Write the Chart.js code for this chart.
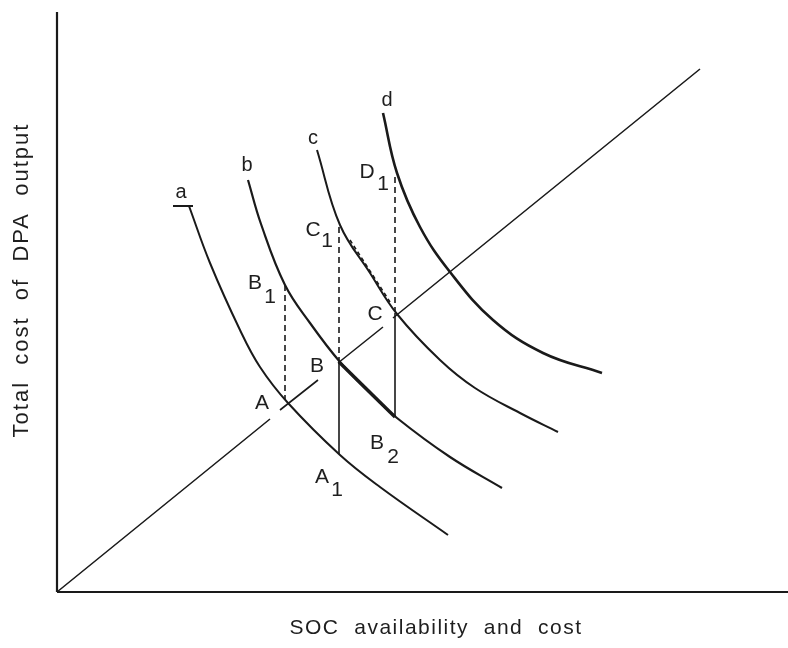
<!DOCTYPE html>
<html>
<head>
<meta charset="utf-8">
<script src="https://cdn.jsdelivr.net/npm/chart.js@4.4.1/dist/chart.umd.min.js"></script>
<style>
  html, body { margin: 0; padding: 0; background: #fff; }
  #wrap { width: 788px; height: 648px; }
</style>
</head>
<body>
<div id="wrap"><canvas id="chart" width="788" height="648"></canvas></div>
<script>
// axis units: one unit = ten pixels of the original drawing
const xMax = 73.1;
const yMax = 58;

// cost curves a, b, c, d
const curveAx = [13.2, 15.3, 18.3, 20.3, 23.1, 28.3, 32.3, 39.1];
const curveAy = [38.6, 32.9, 26.2, 22.5, 18.9, 13.7, 10.5, 5.7];

const curveBx = [19.1, 20.4, 22.8, 25.3, 28.3, 31.3, 34.0, 39.3, 44.5];
const curveBy = [41.2, 36.8, 30.7, 26.9, 23.0, 19.9, 17.4, 13.5, 10.4];

const curveCx = [26.0, 28.3, 31.3, 34.0, 38.3, 41.8, 46.3, 50.1];
const curveCy = [44.2, 36.7, 31.9, 27.8, 23.2, 20.4, 17.9, 16.0];

const curveDx = [32.6, 34.0, 36.3, 39.3, 43.6, 48.6, 54.5];
const curveDy = [47.9, 41.9, 36.5, 32.0, 27.2, 23.9, 21.9];

// ray from origin through A, B, C (broken beside the labels)
const rayX = [0, 21.3, 21.8, 22.3, 26.1, 27.1, 28.1, 32.6, 33.1, 33.6, 64.3];
const rayY = [0, 17.3, null, 18.2, 21.2, null, 22.9, 26.5, null, 27.4, 52.3];

// little bar on top of curve a
const tickAx = [11.6, 13.6];
const tickAy = [38.6, 38.6];

// dashed drops
const dropB1x = [22.8, 22.8];
const dropB1y = [30.7, 19.2];
const dropC1x = [28.2, 28.2];
const dropC1y = [36.5, 23.0];
const dropD1x = [33.8, 33.8];
const dropD1y = [41.5, 28.0];
const chordC1x = [29.3, 33.3];
const chordC1y = [35.2, 29.0];

// solid drops and the B-B2 chord
const dropBx = [28.2, 28.2];
const dropBy = [23.0, 13.8];
const dropCx = [33.8, 33.8];
const dropCy = [27.9, 17.5];
const chordBx = [28.2, 33.8];
const chordBy = [23.0, 17.5];

// axes
const axisYx = [0, 0];
const axisYy = [0, yMax];
const axisXx = [0, xMax];
const axisXy = [0, 0];

const ink = "#1a1a1a";

// text marks: [text, x, y, size]
const marks = [
    ["a", 12.4, 40.0, 20],
    ["b", 19.0, 42.7, 20],
    ["c", 25.6, 45.4, 20],
    ["d", 33.0, 49.2, 20],
    ["D", 31.0, 42.0, 21], ["1", 32.6, 40.8, 21],
    ["C", 25.6, 36.2, 21], ["1", 27.0, 35.1, 21],
    ["B", 19.8, 30.9, 21], ["1", 21.3, 29.5, 21],
    ["C", 31.8, 27.8, 21],
    ["B", 26.0, 22.6, 21],
    ["A", 20.5, 18.9, 21],
    ["B", 32.0, 14.9, 21], ["2", 33.6, 13.5, 21],
    ["A", 26.5, 11.5, 21], ["1", 28.0, 10.2, 21]
];

const xTitle = "SOC  availability  and  cost";
const yTitle = "Total  cost  of  DPA  output";

function pts(xs, ys) {
    return xs.map((x, i) => ({ x: x, y: ys[i] }));
}

function line(xs, ys, width, extra) {
    return Object.assign({
        data: pts(xs, ys),
        borderColor: ink,
        borderWidth: width,
        pointRadius: 0,
        fill: false,
        clip: false,
        spanGaps: false
    }, extra || {});
}

const curve = { tension: 0.4 };
const dashed = { borderDash: [6, 4] };

const textPlugin = {
    id: "textMarks",
    afterDatasetsDraw(chart) {
        const ctx = chart.ctx;
        const xs = chart.scales.x;
        const ys = chart.scales.y;
        ctx.save();
        ctx.fillStyle = "#1e1e1e";
        ctx.textAlign = "center";
        ctx.textBaseline = "middle";
        marks.forEach(m => {
            ctx.font = m[3] + "px 'Liberation Sans', Arial, sans-serif";
            ctx.fillText(m[0], xs.getPixelForValue(m[1]), ys.getPixelForValue(m[2]));
        });

        ctx.font = "21px 'Liberation Sans', Arial, sans-serif";
        ctx.letterSpacing = "1.5px";
        ctx.fillText(xTitle, 436, 628);

        ctx.translate(22, 280);
        ctx.rotate(-Math.PI / 2);
        ctx.font = "22px 'Liberation Sans', Arial, sans-serif";
        ctx.letterSpacing = "2px";
        ctx.fillText(yTitle, 0, 0);
        ctx.restore();
    }
};

new Chart(document.getElementById("chart"), {
    type: "line",
    data: {
        datasets: [
            line(axisYx, axisYy, 2.2),
            line(axisXx, axisXy, 2.2),
            line(rayX, rayY, 1.6),
            line(curveAx, curveAy, 2, curve),
            line(curveBx, curveBy, 2.2, curve),
            line(curveCx, curveCy, 2, curve),
            line(curveDx, curveDy, 2.6, curve),
            line(tickAx, tickAy, 2),
            line(dropB1x, dropB1y, 1.6, dashed),
            line(dropC1x, dropC1y, 1.6, dashed),
            line(dropD1x, dropD1y, 1.6, dashed),
            line(chordC1x, chordC1y, 1.6, { borderDash: [4, 3] }),
            line(dropBx, dropBy, 1.6),
            line(dropCx, dropCy, 1.6),
            line(chordBx, chordBy, 3.4)
        ]
    },
    options: {
        responsive: false,
        animation: false,
        layout: { padding: { left: 57, right: 0, top: 12, bottom: 56 } },
        plugins: {
            legend: { display: false },
            tooltip: { enabled: false }
        },
        scales: {
            x: { type: "linear", display: false, min: 0, max: xMax },
            y: { type: "linear", display: false, min: 0, max: yMax }
        }
    },
    plugins: [textPlugin]
});
</script>
</body>
</html>
